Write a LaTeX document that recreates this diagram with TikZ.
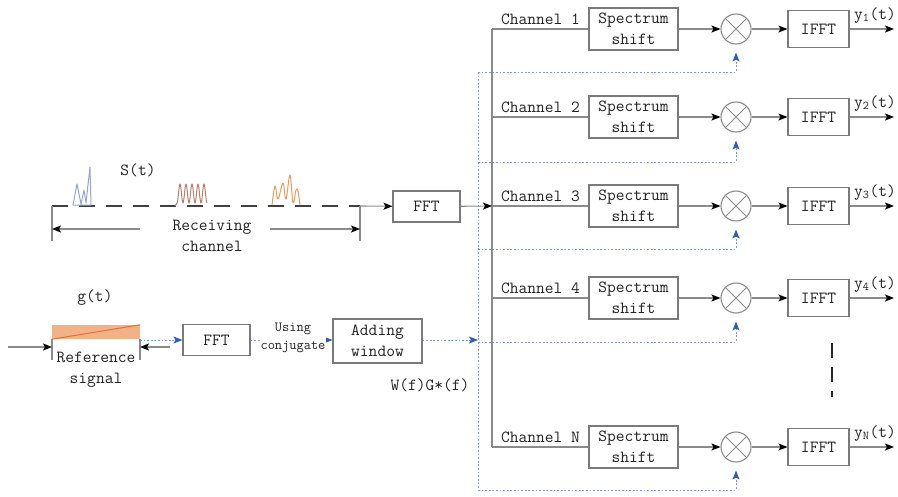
\documentclass[tikz,border=0pt]{standalone}
\usetikzlibrary{arrows.meta}

\definecolor{linegray}{HTML}{8A8A8A}
\definecolor{boxgray}{HTML}{7A7A7A}
\definecolor{txt}{HTML}{222222}
\definecolor{dotblue}{HTML}{7E9BDA}
\definecolor{tipblue}{HTML}{2C5FB4}
\definecolor{pulseblue}{HTML}{97A5D4}
\definecolor{pulsebrown}{HTML}{B3806E}
\definecolor{pulseorange}{HTML}{E69A5C}
\definecolor{refill}{HTML}{F2B287}
\definecolor{refline}{HTML}{E2703A}

\newcommand\bigtt{\fontsize{17}{21}\selectfont\ttfamily}
\newcommand\smalltt{\fontsize{14}{18}\selectfont\ttfamily}

\tikzset{
  stepbox/.style={draw=boxgray, line width=1.1pt, fill=white, text=txt,
    align=center, inner sep=0pt, font=\bigtt},
  lbl/.style={text=txt, font=\bigtt, inner sep=0pt, align=center},
  mixer/.style={circle, draw=linegray, line width=1.1pt, minimum size=30pt,
    inner sep=0pt,
    path picture={\draw[linegray, line width=1pt]
      (path picture bounding box.north west) -- (path picture bounding box.south east)
      (path picture bounding box.north east) -- (path picture bounding box.south west);}},
  wire/.style={draw=linegray, line width=1.1pt},
  sig/.style={wire, -{Stealth[length=9pt, width=7pt, inset=2pt, black]}},
  fb/.style={draw=dotblue, line width=1pt, dash pattern=on 1.8pt off 1.8pt},
  fbarrow/.style={fb, -{Stealth[length=9pt, width=7pt, inset=2pt, tipblue]}},
  rxline/.style={draw=black!75, line width=2.2pt, dash pattern=on 16pt off 11pt},
  pulse/.style={line width=1pt, line join=round},
}

\begin{document}
\begin{tikzpicture}[x=1pt, y=-1pt]
\useasboundingbox (0,0) rectangle (898,496);

% ---------------- receiving channel ----------------
\coordinate (rxa) at (52,206);
\coordinate (rxb) at (360,206);
\coordinate (rxa2) at (52,241);
\coordinate (rxb2) at (360,241);
\coordinate (spanl) at (52,229);
\coordinate (spanr) at (360,229);
\coordinate (spanli) at (140,229);
\coordinate (spanri) at (270,229);

\draw[rxline] (rxa) -- (rxb);
\draw[wire] (rxa) -- (rxa2);
\draw[wire] (rxb) -- (rxb2);
\draw[sig] (spanli) -- (spanl);
\draw[sig] (spanri) -- (spanr);
\node[lbl] (rxtext) at (212,236) {Receiving\\channel};
\node[lbl] (stlabel) at (138,170) {S(t)};

% echo pulses on the channel
\draw[pulse, pulseblue] (73,205) -- (77,184) -- (81,204) -- (84,190) -- (86,203)
  -- (90,167) -- (91,205) -- cycle;
\draw[pulse, pulsebrown] (175,206) -- (177,203)
  plot[domain=177:207, samples=80, smooth] (\x, {193.5-9.5*cos(360*(\x-180)/6)});
\draw[pulse, pulseorange] plot[smooth, tension=0.6] coordinates
  {(272,205) (275,186) (278,199) (283,183) (286,199) (290,175) (293,203) (296,190) (298,191) (300,205)};

\node[stepbox, minimum width=67pt, minimum height=31pt] (fftr) at (426.5,206.5) {FFT};
\draw[sig] (rxb) -- (fftr);

% ---------------- reference branch ----------------
\node[lbl] (gt) at (95,298) {g(t)};
\node[fill=refill, minimum width=88pt, minimum height=14pt, inner sep=0pt] (refsig) at (96,332) {};
\draw[refline, line width=1pt] (refsig.south west) -- (refsig.north east);
\coordinate (rl) at (52,339);
\coordinate (rr) at (140,339);
\coordinate (rl2) at (52,360);
\coordinate (rr2) at (140,360);
\draw[wire] (rl) -- (rl2);
\draw[wire] (rr) -- (rr2);
\coordinate (inl) at (8,347);
\coordinate (inr) at (170,347);
\coordinate (tipl) at (52,347);
\coordinate (tipr) at (140,347);
\draw[sig] (inl) -- (tipl);
\draw[sig] (inr) -- (tipr);
\node[lbl] (reftext) at (96,370) {Reference\\signal};

\node[stepbox, minimum width=67pt, minimum height=31pt] (fftl) at (216.5,340) {FFT};
\node[stepbox, minimum width=89pt, minimum height=44pt] (win) at (377.5,341) {Adding\\window};
\coordinate (refout) at (140,340);
\draw[fbarrow] (refout) -- (fftl);
\draw[fbarrow] (fftl) -- (win.west |- fftl);
\node[lbl, font=\smalltt, fill=white, inner sep=1pt] (conj) at (293,338) {Using\\conjugate};
\node[lbl] (wg) at (430,385) {W(f)G*(f)};

% ---------------- channel bank ----------------
\coordinate (fbin) at (478,340);
\draw[fbarrow] (win.east |- fbin) -- (fbin);

\foreach \yy/\fy/\k/\lab in {29/72/1/1, 117/162/2/2, 206/249/3/3, 298/342/4/4, 447/490/5/N}{
  \coordinate (bus\k) at (492,\yy);
  \coordinate (fb\k) at (478,\fy);
  \coordinate (out\k) at (894,\yy);
  \node[stepbox, minimum width=89pt, minimum height=42pt] (ss\k) at (633.5,\yy) {Spectrum\\shift};
  \node[mixer] (mx\k) at (736,\yy) {};
  \node[stepbox, minimum width=61pt, minimum height=37pt] (if\k) at (818.5,\yy) {IFFT};
  \node[lbl, anchor=base west] (ch\k) at (501,\yy-5) {Channel \lab};
  \node[lbl, anchor=base west] (y\k) at (854,\yy-10) {y\textsubscript{\lab}(t)};
  \draw[wire] (bus\k) -- (ss\k);
  \draw[sig] (ss\k) -- (mx\k);
  \draw[sig] (mx\k) -- (if\k);
  \draw[sig] (if\k) -- (out\k);
  \draw[fbarrow, shorten >=8pt] (fb\k) -| (mx\k.south);
}

\draw[wire, line width=1.3pt] (bus1) -- (bus5);
\draw[fb] (fb1) -- (fb5);
\draw[sig] (fftr) -- (bus3);

% ellipsis between channel 4 and channel N
\coordinate (dota) at (832,343);
\coordinate (dotb) at (832,397);
\draw[black!85, line width=2.6pt, dash pattern=on 15pt off 9pt] (dota) -- (dotb);

\end{tikzpicture}
\end{document}
